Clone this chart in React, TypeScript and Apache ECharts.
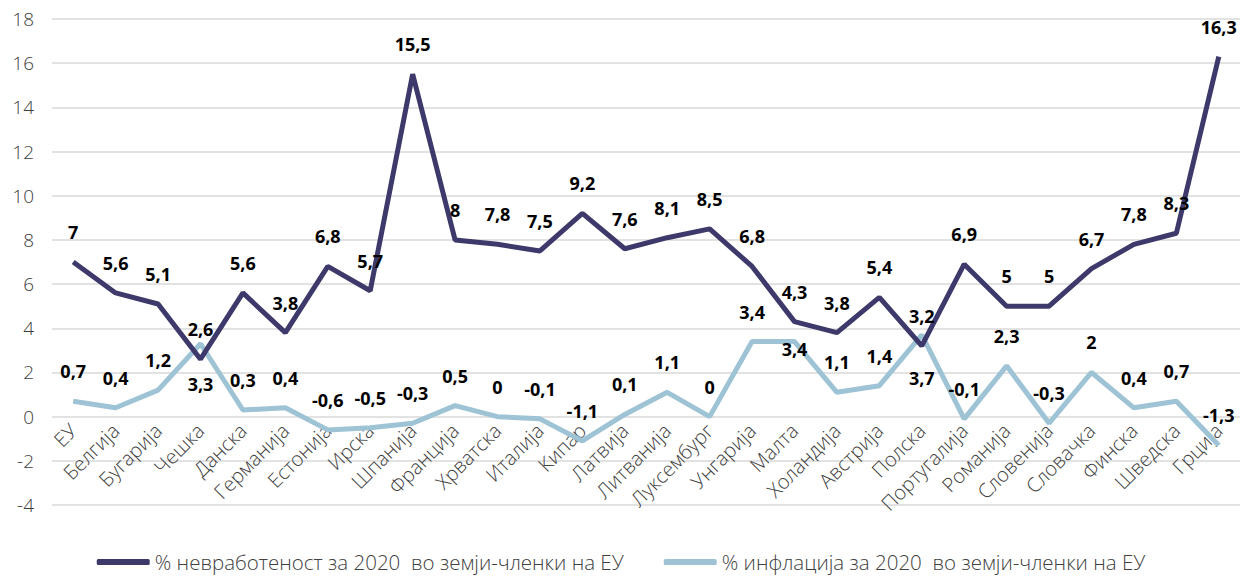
import React, { useEffect, useRef } from "react";
import * as echarts from "echarts";

const categories = [
  "ЕУ", "Белгија", "Бугарија", "Чешка", "Данска", "Германија", "Естонија", "Ирска",
  "Шпанија", "Франција", "Хрватска", "Италија", "Кипар", "Латвија", "Литванија",
  "Луксембург", "Унгарија", "Малта", "Холандија", "Австрија", "Полска", "Португалија",
  "Романија", "Словенија", "Словачка", "Финска", "Шведска", "Грција",
];

const unemployment = [
  7, 5.6, 5.1, 2.6, 5.6, 3.8, 6.8, 5.7, 15.5, 8, 7.8, 7.5, 9.2, 7.6, 8.1, 8.5, 6.8,
  4.3, 3.8, 5.4, 3.2, 6.9, 5, 5, 6.7, 7.8, 8.3, 16.3,
];

const inflation = [
  0.7, 0.4, 1.2, 3.3, 0.3, 0.4, -0.6, -0.5, -0.3, 0.5, 0, -0.1, -1.1, 0.1, 1.1, 0,
  3.4, 3.4, 1.1, 1.4, 3.7, -0.1, 2.3, -0.3, 2, 0.4, 0.7, -1.3,
];

const seriesNames = [
  "% невработеност за 2020  во земји-членки на ЕУ",
  "% инфлација за 2020  во земји-членки на ЕУ",
];

// label offsets (extra downward shift) for specific inflation labels
const inflationLabelShift: Record<number, number> = { 3: 70, 17: 37, 20: 73 };

const FONT = "'Open Sans', 'Noto Sans', sans-serif";

export default function App() {
  const ref = useRef<HTMLDivElement>(null);
  useEffect(() => {
    if (!ref.current) return;
    const chart = echarts.init(ref.current, null, { renderer: "svg" });
    const fmt = (p: any) => String(p.value).replace(".", ",");
    const labelBase = {
      show: true,
      position: "top" as const,
      distance: 21,
      formatter: fmt,
      fontFamily: FONT,
      fontWeight: "bold" as const,
      fontSize: 18,
      color: "#000",
    };
    chart.setOption({
      animation: false,
      grid: { left: 52, right: 2, top: 19, bottom: 72, containLabel: false, outerBoundsMode: "none" },
      legend: {
        top: 550,
        left: "center",
        itemWidth: 53,
        itemHeight: 6,
        itemGap: 40,
        icon: "roundRect",
        padding: 0,
        textStyle: { fontFamily: FONT, fontSize: 20.5, fontWeight: 300, color: "#404040", lineHeight: 24 },
        data: seriesNames,
      },
      xAxis: {
        type: "category",
        data: categories,
        boundaryGap: true,
        offset: -88,
        axisLine: { show: false, onZero: false },
        axisTick: { show: false },
        axisLabel: {
          rotate: 45,
          margin: 10,
          interval: 0,
          fontFamily: FONT,
          fontSize: 20,
          fontWeight: 300,
          color: "#404040",
        },
      },
      yAxis: {
        type: "value",
        min: -4,
        max: 18,
        interval: 2,
        axisLine: { show: false },
        axisTick: { show: false },
        axisLabel: { margin: 18, fontFamily: FONT, fontSize: 19, fontWeight: 300, color: "#404040" },
        splitLine: { lineStyle: { color: "#d9d9d9", width: 1.5 } },
      },
      series: [
        {
          name: seriesNames[0],
          type: "line",
          data: unemployment,
          symbol: "circle",
          symbolSize: 0.01,
          showSymbol: true,
          lineStyle: { color: "#3d3a6b", width: 5 },
          itemStyle: { color: "#3d3a6b" },
          label: labelBase,
          z: 3,
        },
        {
          name: seriesNames[1],
          type: "line",
          data: inflation.map((v, i) =>
            inflationLabelShift[i] !== undefined
              ? { value: v, label: { offset: [0, inflationLabelShift[i]] } }
              : v
          ),
          symbol: "circle",
          symbolSize: 0.01,
          showSymbol: true,
          lineStyle: { color: "#9dc3d5", width: 5 },
          itemStyle: { color: "#9dc3d5" },
          label: labelBase,
          z: 2,
        },
      ],
    });
    return () => chart.dispose();
  }, []);
  return (
    <div
      ref={ref}
      style={{ position: "fixed", left: 0, top: 0, width: 1242, height: 577, background: "#fff" }}
    />
  );
}
